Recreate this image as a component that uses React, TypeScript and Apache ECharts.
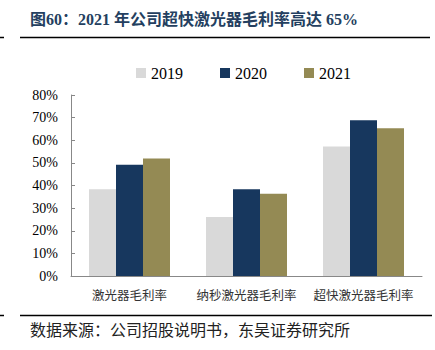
import React, { useEffect, useRef } from "react";
import * as echarts from "echarts";

const categories = ["激光器毛利率", "纳秒激光器毛利率", "超快激光器毛利率"];
const years = ["2019", "2020", "2021"];
const v2019 = [38.3, 26.1, 57.2];
const v2020 = [49.2, 38.3, 68.8];
const v2021 = [51.9, 36.4, 65.3];
const colors = ["#d9d9d9", "#17375e", "#948a54"];
const titleText = "图60：2021 年公司超快激光器毛利率高达 65%";
const sourceText = "数据来源：公司招股说明书，东吴证券研究所";

export default function App() {
  const ref = useRef<HTMLDivElement>(null);
  useEffect(() => {
    const chart = echarts.init(ref.current!, null, { renderer: "svg" });
    const serif = "'Liberation Serif', 'Noto Sans CJK SC', serif";
    const cjk = "'Noto Sans CJK SC', sans-serif";
    const seriesData = [v2019, v2020, v2021];
    chart.setOption({
      animation: false,
      backgroundColor: "#ffffff",
      grid: { left: 71, right: 13, top: 95, bottom: 74, containLabel: false },
      legend: {
        left: 131,
        top: 60,
        itemWidth: 10,
        itemHeight: 10,
        itemGap: 37,
        icon: "rect",
        textStyle: { fontFamily: serif, fontSize: 16, color: "#000" },
        data: years,
      },
      xAxis: {
        type: "category",
        data: categories,
        axisLine: { lineStyle: { color: "#888", width: 1 } },
        axisTick: { inside: true, length: 4, lineStyle: { color: "#888" } },
        axisLabel: { fontFamily: cjk, fontSize: 12.5, color: "#333", margin: 12, interval: 0 },
      },
      yAxis: {
        type: "value",
        min: 0,
        max: 80,
        interval: 10,
        axisLine: { show: true, lineStyle: { color: "#888", width: 1 } },
        axisTick: { show: true, inside: true, length: 4, lineStyle: { color: "#888" } },
        splitLine: { show: false },
        axisLabel: {
          fontFamily: serif,
          fontSize: 14,
          color: "#000",
          margin: 13,
          formatter: "{value}%",
        },
      },
      series: years.map((y, i) => ({
        name: y,
        type: "bar",
        data: seriesData[i],
        barWidth: 27,
        barGap: "0%",
        itemStyle: { color: colors[i] },
      })),
      graphic: [
        {
          type: "text",
          left: 30,
          top: 11,
          style: {
            text: titleText,
            fontFamily: serif,
            fontSize: 16,
            fontWeight: "bold",
            fill: "#243f60",
          },
        },
        { type: "line", shape: { x1: 20, y1: 37.5, x2: 430, y2: 37.5 }, style: { stroke: "#000", lineWidth: 1.5 } },
        { type: "line", shape: { x1: 0, y1: 37.5, x2: 4, y2: 37.5 }, style: { stroke: "#000", lineWidth: 1.5 } },
        { type: "line", shape: { x1: 20, y1: 315.5, x2: 432, y2: 315.5 }, style: { stroke: "#000", lineWidth: 1.5 } },
        { type: "line", shape: { x1: 0, y1: 315.5, x2: 4, y2: 315.5 }, style: { stroke: "#000", lineWidth: 1.5 } },
        {
          type: "text",
          left: 30,
          top: 321,
          style: { text: sourceText, fontFamily: cjk, fontSize: 16, fill: "#222" },
        },
      ],
    });
    return () => chart.dispose();
  }, []);
  return (
    <div
      ref={ref}
      style={{ position: "fixed", left: 0, top: 0, width: 435, height: 350 }}
    />
  );
}
